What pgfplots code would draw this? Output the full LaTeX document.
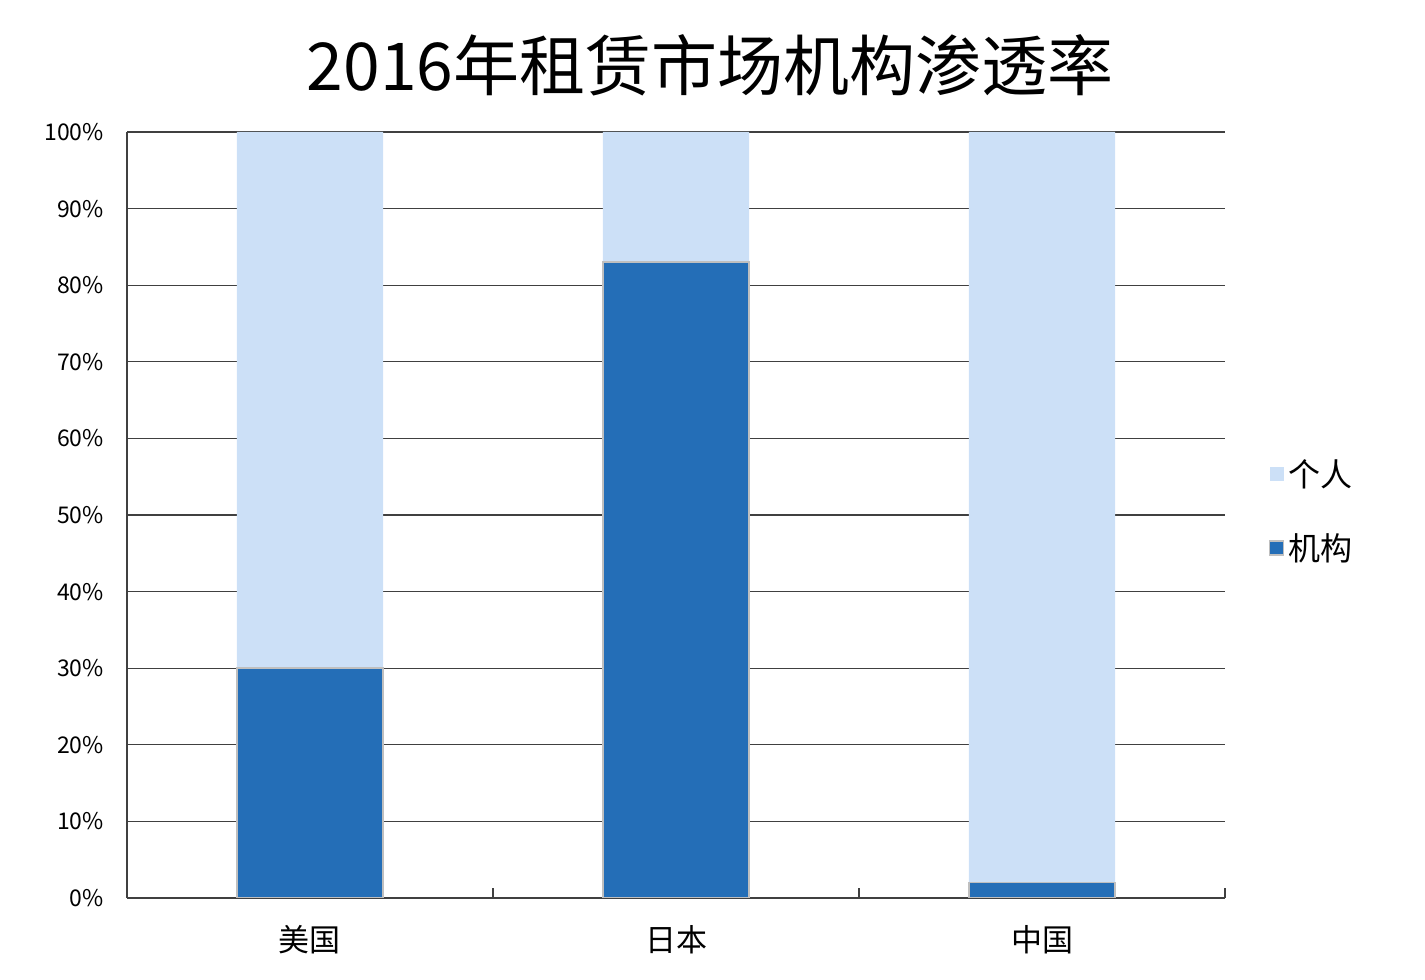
\documentclass[border=0pt]{standalone}
\usepackage{pgfplots}
\pgfplotsset{compat=1.18}
\usepackage{fontspec}
\newfontfamily\cjk{Noto Sans CJK SC}
\setmainfont{Noto Sans CJK SC}
\definecolor{dark}{RGB}{36,110,183}
\definecolor{light}{RGB}{204,224,247}
\definecolor{edge}{RGB}{191,191,191}
\definecolor{gridc}{RGB}{64,64,64}
\begin{document}
\begin{tikzpicture}
\path[use as bounding box] (0,0) rectangle (712.5pt,490pt);
\begin{axis}[
  at={(63.5pt,41pt)}, anchor=south west,
  scale only axis, width=549pt, height=383pt,
  ybar stacked, bar width=0.4,
  xmin=-0.5, xmax=2.5, ymin=0, ymax=100,
  xtick={0.5,1.5,2.5}, xticklabels={},
  major x tick style={draw=gridc, line width=0.6pt},
  major tick length=5pt, tick align=inside,
  extra x ticks={0,1,2}, extra x tick labels={美国,日本,中国},
  extra x tick style={major tick length=0pt, grid=none,
    tick label style={font=\fontsize{15.5}{18}\selectfont, text=black, yshift=-10pt}},
  ytick={0,10,...,100},
  yticklabel={\pgfmathprintnumber{\tick}\%},
  y tick label style={font=\fontsize{11.5}{14}\selectfont, text=black, xshift=-8pt},
  /pgf/number format/assume math mode=true,
  major y tick style={draw=none},
  ymajorgrids, grid style={draw=gridc, line width=0.6pt},
  axis x line*=bottom, axis y line*=left,
  axis line style={draw=gridc, line width=0.6pt, -},
  legend style={at={(1.034,0.505)}, anchor=west, draw=none, fill=none,
    font=\fontsize{16}{19}\selectfont, row sep=18pt,
    /tikz/every even column/.append style={column sep=2pt}},
  legend cell align=left,
  reverse legend,
]
\addplot[fill=dark, draw=edge, line width=0.8pt,
  legend image code/.code={\draw[fill=dark, draw=edge, line width=0.8pt] (0pt,-3.5pt) rectangle (7pt,3.5pt);}]
  coordinates {(0,30) (1,83) (2,2)};
\addlegendentry{机构}
\addplot[fill=light, draw=none,
  legend image code/.code={\fill[light] (0pt,-3.5pt) rectangle (7pt,3.5pt);}]
  coordinates {(0,70) (1,17) (2,98)};
\addlegendentry{个人}
\end{axis}
\node[font=\fontsize{33}{40}\selectfont, text=black] at (355pt,457.5pt) {2016年租赁市场机构渗透率};
\end{tikzpicture}
\end{document}
